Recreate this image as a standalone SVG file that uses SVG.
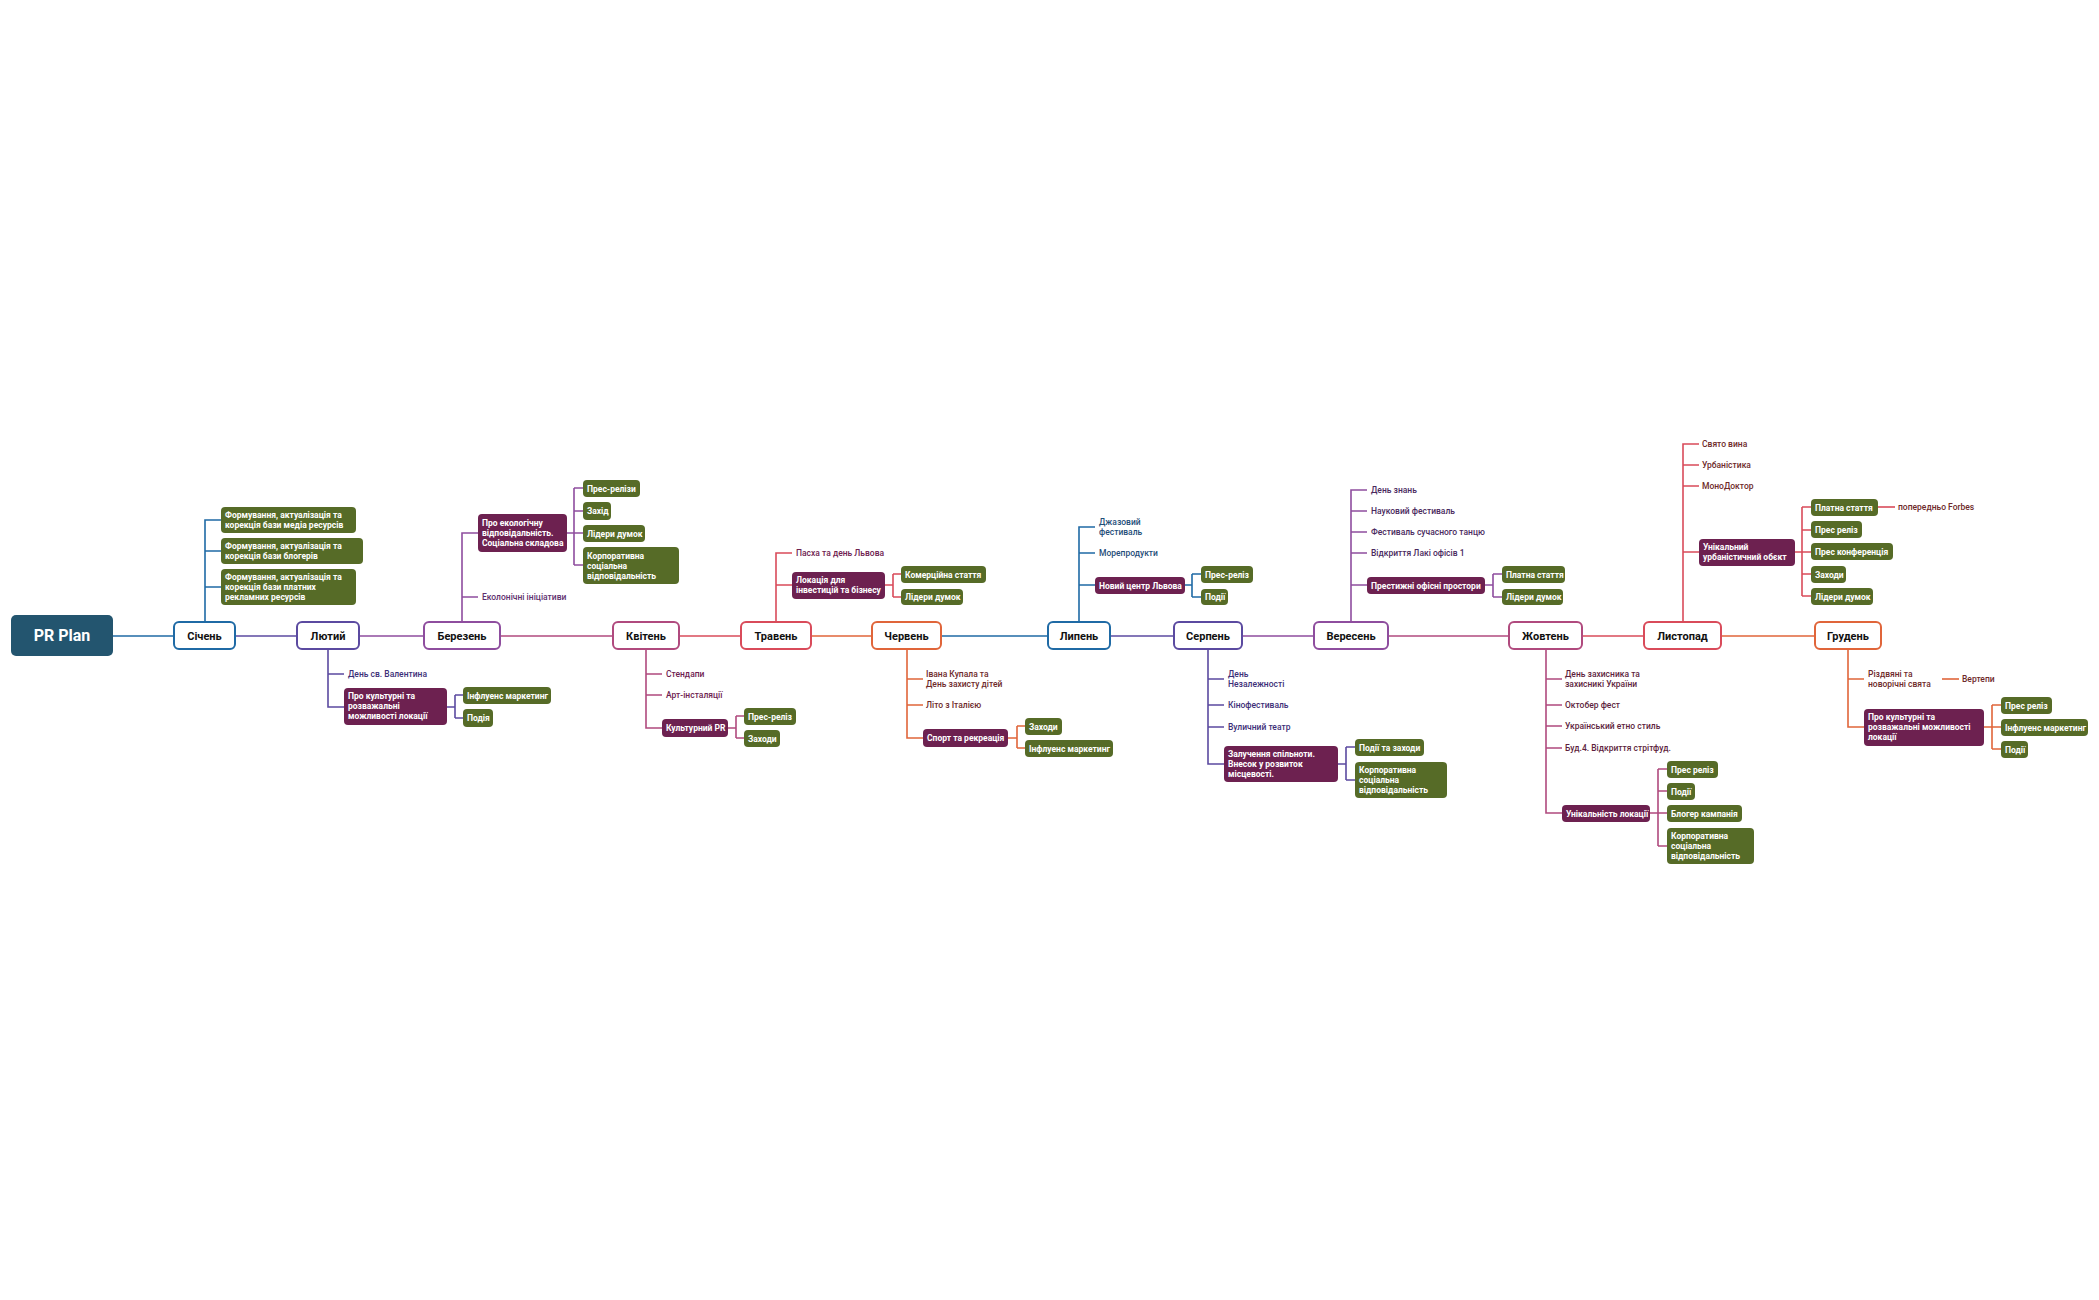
<svg xmlns="http://www.w3.org/2000/svg" width="2099" height="1300" viewBox="0 0 2099 1300">
<style>
text{font-family:Roboto,"Liberation Sans",sans-serif}
.m{fill:#fff;stroke-width:2}
.g{fill:#566b27}
.p{fill:#6d2150}
.tw{fill:#fff;font-size:8.5px;font-weight:700}
.tl{font-size:8.5px;font-weight:500}
.tm{font-size:11px;font-weight:700;fill:#111;text-anchor:middle}
.c path{fill:none;stroke-width:1.6}
</style>
<rect width="2099" height="1300" fill="#fff"/>
<g class="c" id="connectors">
<path d="M113 636H174" stroke="#1f6aa5"/>
<path d="M235 636H297" stroke="#5b4aa0"/>
<path d="M359 636H424" stroke="#8e4d9e"/>
<path d="M500 636H613" stroke="#b04a7e"/>
<path d="M679 636H741" stroke="#d94b5a"/>
<path d="M811 636H872" stroke="#e0653a"/>
<path d="M941 636H1048" stroke="#1f6aa5"/>
<path d="M1110 636H1174" stroke="#5b4aa0"/>
<path d="M1242 636H1314" stroke="#8e4d9e"/>
<path d="M1388 636H1509" stroke="#b04a7e"/>
<path d="M1582 636H1644" stroke="#d94b5a"/>
<path d="M1721 636H1815" stroke="#e0653a"/>
<!-- Січень -->
<path d="M205 622V520H221M205 551H221M205 587H221" stroke="#1f6aa5"/>
<!-- Лютий -->
<path d="M328 649V707H344M328 674H344" stroke="#5b4aa0"/>
<path d="M447 707H455M455 695V718M455 695H463M455 718H463" stroke="#5b4aa0"/>
<!-- Березень -->
<path d="M462 622V533H478M462 597H478" stroke="#8e4d9e"/>
<path d="M567 533H574M574 488V565M574 488H583M574 511H583M574 533H583M574 565H583" stroke="#8e4d9e"/>
<!-- Квітень -->
<path d="M646 649V728H662M646 674H662M646 695H662" stroke="#b04a7e"/>
<path d="M728 728H736M736 716V738M736 716H744M736 738H744" stroke="#b04a7e"/>
<!-- Травень -->
<path d="M776 622V553H792M776 585H792" stroke="#d94b5a"/>
<path d="M885 585H893M893 574V597M893 574H901M893 597H901" stroke="#d94b5a"/>
<!-- Червень -->
<path d="M907 649V738H923M907 679H923M907 705H923" stroke="#e0653a"/>
<path d="M1008 738H1017M1017 726V748M1017 726H1025M1017 748H1025" stroke="#e0653a"/>
<!-- Липень -->
<path d="M1079 622V527H1095M1079 553H1095M1079 585H1095" stroke="#1f6aa5"/>
<path d="M1185 585H1192M1192 574V597M1192 574H1201M1192 597H1201" stroke="#1f6aa5"/>
<!-- Серпень -->
<path d="M1208 649V764H1224M1208 679H1224M1208 705H1224M1208 727H1224" stroke="#5b4aa0"/>
<path d="M1338 764H1346M1346 747V780M1346 747H1355M1346 780H1355" stroke="#5b4aa0"/>
<!-- Вересень -->
<path d="M1351 622V490H1367M1351 511H1367M1351 532H1367M1351 553H1367M1351 585H1367" stroke="#8e4d9e"/>
<path d="M1485 585H1493M1493 574V597M1493 574H1502M1493 597H1502" stroke="#8e4d9e"/>
<!-- Жовтень -->
<path d="M1546 649V813H1562M1546 679H1562M1546 705H1562M1546 726H1562M1546 748H1562" stroke="#b04a7e"/>
<path d="M1650 813H1658M1658 769V846M1658 769H1667M1658 791H1667M1658 813H1667M1658 846H1667" stroke="#b04a7e"/>
<!-- Листопад -->
<path d="M1683 622V444H1699M1683 465H1699M1683 486H1699M1683 552H1699" stroke="#d94b5a"/>
<path d="M1795 552H1802M1802 507V596M1802 507H1811M1802 530H1811M1802 552H1811M1802 574H1811M1802 596H1811" stroke="#d94b5a"/>
<path d="M1878 507H1895" stroke="#d94b5a"/>
<!-- Грудень -->
<path d="M1848 649V727H1864M1848 679H1864" stroke="#e0653a"/>
<path d="M1942 679H1959" stroke="#e0653a"/>
<path d="M1984 727H1992M1992 705V749M1992 705H2001M1992 727H2001M1992 749H2001" stroke="#e0653a"/>
</g>

<g id="root"><rect x="11" y="615" width="102" height="41" rx="5" fill="#23556f"/><text x="62" y="641" fill="#fff" font-size="16" font-weight="700" text-anchor="middle">PR Plan</text></g>

<g id="m01"><rect class="m" x="174" y="622" width="61" height="27" rx="5" stroke="#1f6aa5"/><text class="tm" x="204.5" y="640">Січень</text></g>
<g id="m02"><rect class="m" x="297" y="622" width="62" height="27" rx="5" stroke="#5b4aa0"/><text class="tm" x="328" y="640">Лютий</text></g>
<g id="m03"><rect class="m" x="424" y="622" width="76" height="27" rx="5" stroke="#8e4d9e"/><text class="tm" x="462" y="640">Березень</text></g>
<g id="m04"><rect class="m" x="613" y="622" width="66" height="27" rx="5" stroke="#b04a7e"/><text class="tm" x="646" y="640">Квітень</text></g>
<g id="m05"><rect class="m" x="741" y="622" width="70" height="27" rx="5" stroke="#d94b5a"/><text class="tm" x="776" y="640">Травень</text></g>
<g id="m06"><rect class="m" x="872" y="622" width="69" height="27" rx="5" stroke="#e0653a"/><text class="tm" x="906.5" y="640">Червень</text></g>
<g id="m07"><rect class="m" x="1048" y="622" width="62" height="27" rx="5" stroke="#1f6aa5"/><text class="tm" x="1079" y="640">Липень</text></g>
<g id="m08"><rect class="m" x="1174" y="622" width="68" height="27" rx="5" stroke="#5b4aa0"/><text class="tm" x="1208" y="640">Серпень</text></g>
<g id="m09"><rect class="m" x="1314" y="622" width="74" height="27" rx="5" stroke="#8e4d9e"/><text class="tm" x="1351" y="640">Вересень</text></g>
<g id="m10"><rect class="m" x="1509" y="622" width="73" height="27" rx="5" stroke="#b04a7e"/><text class="tm" x="1545.5" y="640">Жовтень</text></g>
<g id="m11"><rect class="m" x="1644" y="622" width="77" height="27" rx="5" stroke="#d94b5a"/><text class="tm" x="1682.5" y="640">Листопад</text></g>
<g id="m12"><rect class="m" x="1815" y="622" width="66" height="27" rx="5" stroke="#e0653a"/><text class="tm" x="1848" y="640">Грудень</text></g>

<!-- Січень -->
<g id="jan1"><rect class="g" x="221" y="507" width="135" height="26" rx="4"/><text class="tw" x="225" y="518">Формування, актуалізація та<tspan x="225" dy="10">корекція бази медіа ресурсів</tspan></text></g>
<g id="jan2"><rect class="g" x="221" y="538" width="142" height="26" rx="4"/><text class="tw" x="225" y="549">Формування, актуалізація та<tspan x="225" dy="10">корекція бази блогерів</tspan></text></g>
<g id="jan3"><rect class="g" x="221" y="569" width="135" height="36" rx="4"/><text class="tw" x="225" y="580">Формування, актуалізація та<tspan x="225" dy="10">корекція бази платних</tspan><tspan x="225" dy="10">рекламних ресурсів</tspan></text></g>
<!-- Лютий -->
<g id="feb1"><text class="tl" x="348" y="677" fill="#3d2f78">День св. Валентина</text></g>
<g id="feb2"><rect class="p" x="344" y="688" width="103" height="37" rx="4"/><text class="tw" x="348" y="699">Про культурні та<tspan x="348" dy="10">розважальні</tspan><tspan x="348" dy="10">можливості локації</tspan></text></g>
<g id="feb3"><rect class="g" x="463" y="687" width="88" height="17" rx="4"/><text class="tw" x="467" y="699">Інфлуенс маркетинг</text></g>
<g id="feb4"><rect class="g" x="463" y="709" width="30" height="18" rx="4"/><text class="tw" x="467" y="721">Подія</text></g>
<!-- Березень -->
<g id="mar1"><text class="tl" x="482" y="600" fill="#5e2f6e">Еколонічні ініціативи</text></g>
<g id="mar2"><rect class="p" x="478" y="514" width="89" height="38" rx="4"/><text class="tw" x="482" y="526">Про екологічну<tspan x="482" dy="10">відповідальність.</tspan><tspan x="482" dy="10">Соціальна складова</tspan></text></g>
<g id="mar3"><rect class="g" x="583" y="480" width="57" height="17" rx="4"/><text class="tw" x="587" y="492">Прес-релізи</text></g>
<g id="mar4"><rect class="g" x="583" y="502" width="28" height="18" rx="4"/><text class="tw" x="587" y="514">Захід</text></g>
<g id="mar5"><rect class="g" x="583" y="525" width="62" height="17" rx="4"/><text class="tw" x="587" y="537">Лідери думок</text></g>
<g id="mar6"><rect class="g" x="583" y="547" width="96" height="37" rx="4"/><text class="tw" x="587" y="559">Корпоративна<tspan x="587" dy="10">соціальна</tspan><tspan x="587" dy="10">відповідальність</tspan></text></g>
<!-- Квітень -->
<g id="apr1"><text class="tl" x="666" y="677" fill="#6e2150">Стендапи</text></g>
<g id="apr2"><text class="tl" x="666" y="698" fill="#6e2150">Арт-інсталяції</text></g>
<g id="apr3"><rect class="p" x="662" y="719" width="66" height="18" rx="4"/><text class="tw" x="666" y="731">Культурний PR</text></g>
<g id="apr4"><rect class="g" x="744" y="708" width="52" height="17" rx="4"/><text class="tw" x="748" y="720">Прес-реліз</text></g>
<g id="apr5"><rect class="g" x="744" y="730" width="36" height="17" rx="4"/><text class="tw" x="748" y="742">Заходи</text></g>
<!-- Травень -->
<g id="may1"><text class="tl" x="796" y="556" fill="#6e2150">Пасха та день Львова</text></g>
<g id="may2"><rect class="p" x="792" y="572" width="93" height="27" rx="4"/><text class="tw" x="796" y="583">Локація для<tspan x="796" dy="10">інвестицій та бізнесу</tspan></text></g>
<g id="may3"><rect class="g" x="901" y="566" width="85" height="17" rx="4"/><text class="tw" x="905" y="578">Комерційна стаття</text></g>
<g id="may4"><rect class="g" x="901" y="589" width="62" height="16" rx="4"/><text class="tw" x="905" y="600">Лідери думок</text></g>
<!-- Червень -->
<g id="jun1"><text class="tl" x="926" y="677" fill="#6e2a2a">Івана Купала та<tspan x="926" dy="10">День захисту дітей</tspan></text></g>
<g id="jun2"><text class="tl" x="926" y="708" fill="#6e2a2a">Літо з Італією</text></g>
<g id="jun3"><rect class="p" x="923" y="729" width="85" height="18" rx="4"/><text class="tw" x="927" y="741">Спорт та рекреація</text></g>
<g id="jun4"><rect class="g" x="1025" y="718" width="37" height="17" rx="4"/><text class="tw" x="1029" y="730">Заходи</text></g>
<g id="jun5"><rect class="g" x="1025" y="740" width="88" height="17" rx="4"/><text class="tw" x="1029" y="752">Інфлуенс маркетинг</text></g>
<!-- Липень -->
<g id="jul1"><text class="tl" x="1099" y="525" fill="#1f4e79">Джазовий<tspan x="1099" dy="10">фестиваль</tspan></text></g>
<g id="jul2"><text class="tl" x="1099" y="556" fill="#1f4e79">Морепродукти</text></g>
<g id="jul3"><rect class="p" x="1095" y="577" width="90" height="17" rx="4"/><text class="tw" x="1099" y="589">Новий центр Львова</text></g>
<g id="jul4"><rect class="g" x="1201" y="566" width="52" height="17" rx="4"/><text class="tw" x="1205" y="578">Прес-реліз</text></g>
<g id="jul5"><rect class="g" x="1201" y="589" width="27" height="16" rx="4"/><text class="tw" x="1205" y="600">Події</text></g>
<!-- Серпень -->
<g id="aug1"><text class="tl" x="1228" y="677" fill="#3d2f78">День<tspan x="1228" dy="10">Незалежності</tspan></text></g>
<g id="aug2"><text class="tl" x="1228" y="708" fill="#3d2f78">Кінофестиваль</text></g>
<g id="aug3"><text class="tl" x="1228" y="730" fill="#3d2f78">Вуличний театр</text></g>
<g id="aug4"><rect class="p" x="1224" y="746" width="114" height="36" rx="4"/><text class="tw" x="1228" y="757">Залучення спільноти.<tspan x="1228" dy="10">Внесок у розвиток</tspan><tspan x="1228" dy="10">місцевості.</tspan></text></g>
<g id="aug5"><rect class="g" x="1355" y="739" width="69" height="17" rx="4"/><text class="tw" x="1359" y="751">Події та заходи</text></g>
<g id="aug6"><rect class="g" x="1355" y="762" width="92" height="36" rx="4"/><text class="tw" x="1359" y="773">Корпоративна<tspan x="1359" dy="10">соціальна</tspan><tspan x="1359" dy="10">відповідальність</tspan></text></g>
<!-- Вересень -->
<g id="sep1"><text class="tl" x="1371" y="493" fill="#4a2a5e">День знань</text></g>
<g id="sep2"><text class="tl" x="1371" y="514" fill="#4a2a5e">Науковий фестиваль</text></g>
<g id="sep3"><text class="tl" x="1371" y="535" fill="#4a2a5e">Фестиваль сучасного танцю</text></g>
<g id="sep4"><text class="tl" x="1371" y="556" fill="#4a2a5e">Відкриття Лакі офісів 1</text></g>
<g id="sep5"><rect class="p" x="1367" y="577" width="118" height="17" rx="4"/><text class="tw" x="1371" y="589">Престижні офісні простори</text></g>
<g id="sep6"><rect class="g" x="1502" y="566" width="63" height="17" rx="4"/><text class="tw" x="1506" y="578">Платна стаття</text></g>
<g id="sep7"><rect class="g" x="1502" y="589" width="61" height="16" rx="4"/><text class="tw" x="1506" y="600">Лідери думок</text></g>
<!-- Жовтень -->
<g id="oct1"><text class="tl" x="1565" y="677" fill="#5e1f3e">День захисника та<tspan x="1565" dy="10">захисникі України</tspan></text></g>
<g id="oct2"><text class="tl" x="1565" y="708" fill="#5e1f3e">Октобер фест</text></g>
<g id="oct3"><text class="tl" x="1565" y="729" fill="#5e1f3e">Український етно стиль</text></g>
<g id="oct4"><text class="tl" x="1565" y="751" fill="#5e1f3e">Буд.4. Відкриття стрітфуд.</text></g>
<g id="oct5"><rect class="p" x="1562" y="805" width="88" height="17" rx="4"/><text class="tw" x="1566" y="817">Унікальність локації</text></g>
<g id="oct6"><rect class="g" x="1667" y="761" width="51" height="17" rx="4"/><text class="tw" x="1671" y="773">Прес реліз</text></g>
<g id="oct7"><rect class="g" x="1667" y="783" width="28" height="17" rx="4"/><text class="tw" x="1671" y="795">Події</text></g>
<g id="oct8"><rect class="g" x="1667" y="805" width="75" height="17" rx="4"/><text class="tw" x="1671" y="817">Блогер кампанія</text></g>
<g id="oct9"><rect class="g" x="1667" y="828" width="87" height="36" rx="4"/><text class="tw" x="1671" y="839">Корпоративна<tspan x="1671" dy="10">соціальна</tspan><tspan x="1671" dy="10">відповідальність</tspan></text></g>
<!-- Листопад -->
<g id="nov1"><text class="tl" x="1702" y="447" fill="#6e2a2a">Свято вина</text></g>
<g id="nov2"><text class="tl" x="1702" y="468" fill="#6e2a2a">Урбаністика</text></g>
<g id="nov3"><text class="tl" x="1702" y="489" fill="#6e2a2a">МоноДоктор</text></g>
<g id="nov4"><rect class="p" x="1699" y="539" width="96" height="27" rx="4"/><text class="tw" x="1703" y="550">Унікальний<tspan x="1703" dy="10">урбаністичний обєкт</tspan></text></g>
<g id="nov5"><rect class="g" x="1811" y="499" width="67" height="17" rx="4"/><text class="tw" x="1815" y="511">Платна стаття</text></g>
<g id="nov6"><text class="tl" x="1898" y="510" fill="#6e2a2a">попередньо Forbes</text></g>
<g id="nov7"><rect class="g" x="1811" y="521" width="51" height="17" rx="4"/><text class="tw" x="1815" y="533">Прес реліз</text></g>
<g id="nov8"><rect class="g" x="1811" y="543" width="82" height="17" rx="4"/><text class="tw" x="1815" y="555">Прес конференція</text></g>
<g id="nov9"><rect class="g" x="1811" y="566" width="35" height="17" rx="4"/><text class="tw" x="1815" y="578">Заходи</text></g>
<g id="nov10"><rect class="g" x="1811" y="588" width="62" height="17" rx="4"/><text class="tw" x="1815" y="600">Лідери думок</text></g>
<!-- Грудень -->
<g id="dec1"><text class="tl" x="1868" y="677" fill="#6e2a2a">Різдвяні та<tspan x="1868" dy="10">новорічні свята</tspan></text></g>
<g id="dec2"><text class="tl" x="1962" y="682" fill="#6e2a2a">Вертепи</text></g>
<g id="dec3"><rect class="p" x="1864" y="709" width="120" height="37" rx="4"/><text class="tw" x="1868" y="720">Про культурні та<tspan x="1868" dy="10">розважальні можливості</tspan><tspan x="1868" dy="10">локації</tspan></text></g>
<g id="dec4"><rect class="g" x="2001" y="697" width="51" height="17" rx="4"/><text class="tw" x="2005" y="709">Прес реліз</text></g>
<g id="dec5"><rect class="g" x="2001" y="719" width="87" height="17" rx="4"/><text class="tw" x="2005" y="731">Інфлуенс маркетинг</text></g>
<g id="dec6"><rect class="g" x="2001" y="741" width="27" height="17" rx="4"/><text class="tw" x="2005" y="753">Події</text></g>
</svg>
